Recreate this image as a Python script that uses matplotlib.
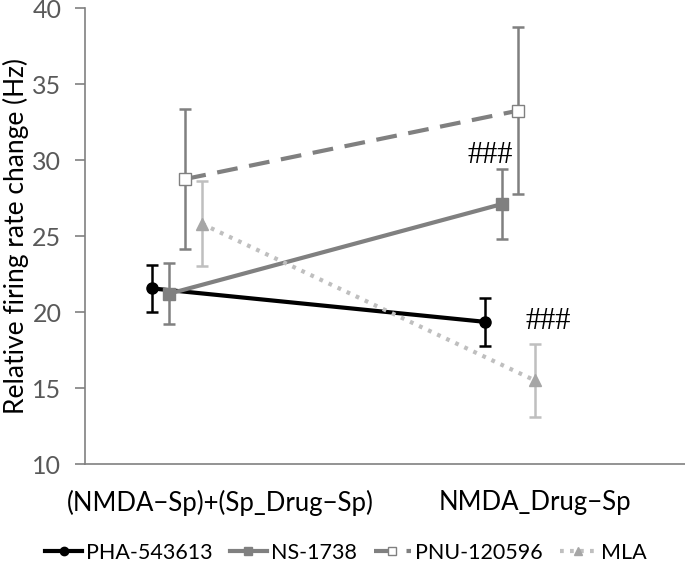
import matplotlib
matplotlib.use("Agg")
import matplotlib.pyplot as plt
from matplotlib.lines import Line2D
import numpy as np

categories = ["(NMDA\u2212Sp)+(Sp_Drug\u2212Sp)", "NMDA_Drug\u2212Sp"]
series = ["PHA-543613", "NS-1738", "PNU-120596", "MLA"]
means = {
    "PHA-543613": [21.55, 19.35],
    "NS-1738": [21.2, 27.1],
    "PNU-120596": [28.75, 33.25],
    "MLA": [25.8, 15.5],
}
errs = {
    "PHA-543613": [1.55, 1.6],
    "NS-1738": [2.0, 2.3],
    "PNU-120596": [4.6, 5.5],
    "MLA": [2.8, 2.4],
}
annotations = ["###", "###"]
annot_y = [30.3, 19.35]

plt.rcParams['font.family'] = ['Lato', 'DejaVu Sans']

fig = plt.figure(figsize=(6.85, 5.68), dpi=100)
ax = fig.add_axes([85/685, 1-464/568, 600/685, 456/568])

cat_pos = np.arange(len(categories))
group_shift = np.array([-0.193, -0.083])
spacing = 0.055
styles = {
    "PHA-543613": dict(color="black", ls="-", lw=3.0, marker="o", ms=8, mfc="black", mec="black", ecolor="black"),
    "NS-1738": dict(color="#808080", ls="-", lw=3.0, marker="s", ms=8, mfc="#808080", mec="#808080", ecolor="#808080"),
    "PNU-120596": dict(color="#808080", ls=(0, (5, 2.8)), lw=3.0, marker="s", ms=8, mfc="white", mec="#808080", ecolor="#808080"),
    "MLA": dict(color="#BFBFBF", ls=(0, (0.9, 1.5)), lw=3.0, marker="^", ms=8, mfc="#A6A6A6", mec="#A6A6A6", ecolor="#BFBFBF"),
}

handles = []
for i, s in enumerate(series):
    st = dict(styles[s])
    ecol = st.pop("ecolor")
    xs = cat_pos + group_shift + (i - 1.5) * spacing
    ax.errorbar(xs, means[s], yerr=errs[s], ecolor=ecol, elinewidth=1.8,
                capsize=4, capthick=1.8, zorder=3 + i, **st)
    hst = dict(st)
    hst["ms"] = 6
    handles.append(Line2D([], [], label=s, **hst))

ax.set_xlim(-0.5, 1.5)
ax.set_ylim(10, 40)
ax.set_yticks(np.arange(10, 41, 5))
ax.tick_params(axis='y', colors='#808080', labelcolor='#595959', labelsize=18, length=7, width=1.2, direction='out', pad=10)
ax.set_xticks([])
for sp in ["top", "right"]:
    ax.spines[sp].set_visible(False)
for sp in ["left", "bottom"]:
    ax.spines[sp].set_color("#808080")
    ax.spines[sp].set_linewidth(1.2)

cat_label_x = [-0.05, 1.0]
for xl, lab in zip(cat_label_x, categories):
    ax.text(xl, -0.085, lab, transform=ax.get_xaxis_transform(), ha='center', va='center',
            fontsize=18.5, color='black')

ax.set_ylabel("Relative firing rate change (Hz)", fontsize=19, color='black')
ax.yaxis.set_label_coords((29-85)/600, (464-236)/456, transform=ax.transAxes)

annot_x = [0.85, 1.043]
for xa, ya, t in zip(annot_x, annot_y, annotations):
    ax.text(xa, ya, t, ha='center', va='center', fontsize=22, family=['Liberation Serif'])

leg = fig.legend(handles=handles, loc='center', bbox_to_anchor=(0.505, 1-553/568), ncol=4, frameon=False,
                 fontsize=15.5, handlelength=1.7, columnspacing=0.8, handletextpad=0.2)

fig.savefig("out.png", dpi=100)
